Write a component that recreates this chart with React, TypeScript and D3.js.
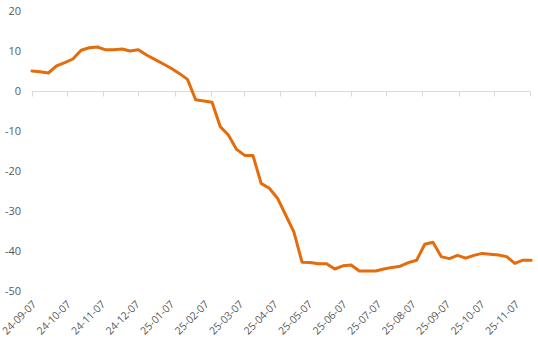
import React from 'react';
import * as d3 from 'd3';

const startDate = new Date(2024, 8, 7);
const endDate = new Date(2025, 10, 7);

const values: number[] = [
  5.0, 4.8, 4.5, 6.3, 7.1, 8.0, 10.2, 10.8, 11.0, 10.3,
  10.3, 10.5, 10.0, 10.3, 9.0, 7.9, 6.8, 5.7, 4.4, 2.9,
  -2.2, -2.5, -2.8, -8.9, -11.0, -14.6, -16.1, -16.1, -23.1, -24.3,
  -26.8, -31.0, -35.2, -42.8, -42.9, -43.2, -43.2, -44.5, -43.7, -43.5,
  -45.0, -45.0, -45.0, -44.5, -44.1, -43.8, -42.9, -42.3, -38.3, -37.8,
  -41.4, -41.9, -41.1, -41.8, -41.1, -40.6, -40.8, -41.0, -41.4, -43.1,
  -42.3, -42.3,
];

const tickLabels: string[] = [
  '24-09-07', '24-10-07', '24-11-07', '24-12-07', '25-01-07', '25-02-07',
  '25-03-07', '25-04-07', '25-05-07', '25-06-07', '25-07-07', '25-08-07',
  '25-09-07', '25-10-07', '25-11-07',
];

const yTicks: number[] = [20, 10, 0, -10, -20, -30, -40, -50];

export default function App() {
  const x = d3.scaleTime().domain([startDate, endDate]).range([32, 530]);
  const y = d3.scaleLinear().domain([-50, 20]).range([291, 11]);
  const dates = values.map((_, i) => d3.timeDay.offset(startDate, 7 * i));
  const line = d3
    .line<number>()
    .x((_, i) => x(dates[i]))
    .y((d) => y(d));
  const tickDates = tickLabels.map((_, i) => d3.timeMonth.offset(startDate, i));
  const labelX = d3.scalePoint<string>().domain(tickLabels).range([37, 520]);
  const font = "'Open Sans', 'Liberation Sans', sans-serif";
  const y0 = Math.round(y(0)) + 0.5;

  return (
    <svg
      width={538}
      height={350}
      style={{ position: 'absolute', left: 0, top: 0, background: '#fff' }}
      fontFamily={font}
    >
      <rect width={538} height={350} fill="#fff" />
      {yTicks.map((t) => (
        <text
          key={t}
          x={21}
          y={y(t)}
          dy="0.35em"
          textAnchor="end"
          fontSize={11}
          fill="#595959"
        >
          {t}
        </text>
      ))}
      <line x1={32} x2={530} y1={y0} y2={y0} stroke="#d9d9d9" strokeWidth={1} />
      {tickDates.map((d, i) => (
        <line
          key={i}
          x1={Math.round(x(d)) + 0.5}
          x2={Math.round(x(d)) + 0.5}
          y1={y0}
          y2={y0 + 5}
          stroke="#d9d9d9"
          strokeWidth={1}
        />
      ))}
      {tickLabels.map((l) => (
        <text
          key={l}
          transform={`translate(${labelX(l)},${305}) rotate(-45)`}
          textAnchor="end"
          fontSize={10.5}
          fill="#595959"
        >
          {l}
        </text>
      ))}
      <path
        d={line(values) || ''}
        fill="none"
        stroke="#e46c0a"
        strokeWidth={3}
        strokeLinejoin="round"
        strokeLinecap="round"
      />
    </svg>
  );
}
